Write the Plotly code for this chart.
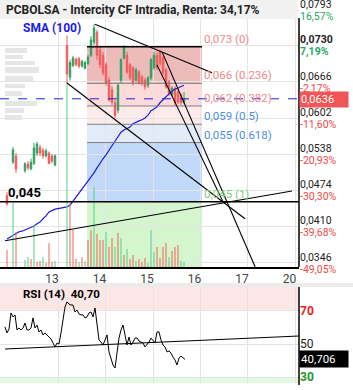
import numpy as np
import plotly.graph_objects as go

# ---------------- DATA ----------------
day_labels = ["13", "14", "15", "16", "17", "20"]
day_bars = [17.0, 32.83, 48.67, 64.5, 80.33, 96.17]

candle_open = [
    0.0465, None, 0.0524, 0.0535, None, None, 0.0509, 0.0521, 0.0512, 0.0522,
    0.0540, 0.0550, 0.0545, 0.0535, 0.0540, 0.0535, 0.0519, None, None, None,
    0.0730, 0.0674, 0.0695, 0.0706, 0.0707, 0.0694, 0.0690, 0.0698, 0.0713, 0.0736,
    0.0754, 0.0722, 0.0713, 0.0696, 0.0669, 0.0652, 0.0629, 0.0616, 0.0669, 0.0708,
    0.0713, 0.0696, 0.0691, 0.0669, 0.0683, 0.0675, 0.0669, 0.0660, 0.0673, 0.0691,
    0.0713, 0.0719, 0.0708, 0.0687, 0.0666, 0.0643, 0.0655, 0.0648, 0.0643, 0.0630]
candle_high = [
    0.0471, None, 0.0551, 0.0540, None, None, 0.0524, 0.0526, 0.0530, 0.0558,
    0.0560, 0.0555, 0.0549, 0.0548, 0.0543, 0.0538, 0.0538, None, None, None,
    0.0748, 0.0705, 0.0712, 0.0709, 0.0710, 0.0705, 0.0703, 0.0714, 0.0747, 0.0768,
    0.0758, 0.0728, 0.0719, 0.0701, 0.0675, 0.0659, 0.0634, 0.0664, 0.0708, 0.0731,
    0.0719, 0.0699, 0.0694, 0.0691, 0.0687, 0.0678, 0.0673, 0.0676, 0.0708, 0.0719,
    0.0719, 0.0722, 0.0712, 0.0691, 0.0669, 0.0659, 0.0659, 0.0652, 0.0646, 0.0648]
candle_low = [
    0.0447, None, 0.0521, 0.0505, None, None, 0.0505, 0.0510, 0.0510, 0.0519,
    0.0535, 0.0535, 0.0530, 0.0532, 0.0520, 0.0522, 0.0517, None, None, None,
    0.0664, 0.0668, 0.0692, 0.0693, 0.0690, 0.0691, 0.0688, 0.0696, 0.0710, 0.0731,
    0.0705, 0.0690, 0.0677, 0.0659, 0.0631, 0.0625, 0.0602, 0.0611, 0.0664, 0.0705,
    0.0680, 0.0669, 0.0659, 0.0666, 0.0661, 0.0659, 0.0652, 0.0655, 0.0669, 0.0687,
    0.0687, 0.0694, 0.0677, 0.0654, 0.0641, 0.0641, 0.0623, 0.0627, 0.0625, 0.0627]
candle_close = [
    0.0450, None, 0.0546, 0.0512, None, None, 0.0521, 0.0514, 0.0524, 0.0549,
    0.0556, 0.0540, 0.0535, 0.0544, 0.0522, 0.0526, 0.0535, None, None, None,
    0.0680, 0.0700, 0.0708, 0.0697, 0.0694, 0.0702, 0.0700, 0.0710, 0.0740, 0.0761,
    0.0713, 0.0696, 0.0682, 0.0664, 0.0634, 0.0630, 0.0607, 0.0660, 0.0705, 0.0728,
    0.0683, 0.0673, 0.0664, 0.0687, 0.0664, 0.0664, 0.0657, 0.0673, 0.0705, 0.0713,
    0.0691, 0.0699, 0.0682, 0.0657, 0.0646, 0.0655, 0.0629, 0.0630, 0.0629, 0.0636]

volume = [
    17, None, 64, 35, None, None, 7, 10, 8, 42,
    5, 6, 10, 4, 24, 5, 6, None, None, None,
    184, 64, 37, 8, 5, 10, 6, 27, 37, 80,
    33, 27, 27, 35, 20, 29, 20, 34, 29, 12,
    18, 8, 12, 6, 8, 5, 9, 4, 37, 15,
    20, 9, 20, 24, 10, 16, 20, 22, 6, 5]
volume_side = [
    "r", None, "g", "r", None, None, "g", "g", "r", "g",
    "r", "r", "g", "r", "r", "r", "g", None, None, None,
    "g", "r", "r", "r", "g", "r", "g", "r", "r", "g",
    "r", "r", "r", "g", "r", "r", "g", "r", "g", "r",
    "g", "r", "r", "g", "r", "r", "r", "g", "g", "g",
    "r", "r", "r", "r", "g", "r", "r", "r", "g", "g"]

sma100 = [
    0.0388, 0.0391, 0.0394, 0.0397, 0.0401, 0.0402, 0.0404, 0.0406, 0.0408, 0.0411,
    0.0415, 0.0418, 0.0424, 0.0429, 0.0436, 0.0439, 0.0441, 0.0442, 0.0443, 0.0444,
    0.0445, 0.0448, 0.0455, 0.0462, 0.0470, 0.0475, 0.0482, 0.0489, 0.0496, 0.0505,
    0.0514, 0.0523, 0.0530, 0.0537, 0.0544, 0.0553, 0.0561, 0.0570, 0.0577, 0.0581,
    0.0584, 0.0586, 0.0592, 0.0595, 0.0597, 0.0599, 0.0602, 0.0607, 0.0615, 0.0618,
    0.0622, 0.0629, 0.0634, 0.0639, 0.0645, 0.0650, 0.0653, 0.0655, 0.0657, 0.0660]

rsi14 = [
    60.3, 56.7, 59.1, 68.8, 66.4, 67.6, 58.5, 59.7, 58.5, 59.7,
    62.7, 58.5, 58.5, 59.7, 65.8, 59.7, 61.5, 57.3, 58.5, 55.5,
    56.7, 55.5, 54.2, 53.0, 50.6, 48.2, 50.6, 50.0, 56.7, 65.8,
    72.4, 75.5, 74.2, 73.6, 73.6, 69.4, 70.6, 68.2, 67.6, 67.6,
    65.8, 66.4, 68.8, 69.4, 66.4, 71.8, 63.3, 52.4, 51.2, 49.4,
    52.4, 55.5, 45.2, 41.5, 37.3, 35.5, 45.2, 53.6, 58.5, 61.5,
    55.5, 49.4, 54.2, 49.4, 51.2, 53.6, 53.6, 51.8, 51.2, 50.6,
    48.2, 49.4, 51.2, 53.6, 52.4, 50.6, 57.3, 57.3, 52.4, 49.4,
    48.2, 45.2, 45.8, 44.5, 42.1, 40.3, 37.3, 41.5, 42.7, 41.5,
    40.7]
rsi_last_label = "40,706"
rsi_title = "RSI (14)\u00a0\u00a040,70"

price_ticks = [0.0793, 0.0730, 0.0666, 0.0602, 0.0538, 0.0474, 0.0410, 0.0346]
price_tick_labels = ["0,0793", "0,0730", "0,0666", "0,0602", "0,0538", "0,0474", "0,0410", "0,0346"]
pct_tick_labels = ["16,57%", "7,19%", "-2,17%", "-11,60%", "-20,93%", "-30,30%", "-39,68%", "-49,05%"]
bold_tick = "0,0730"

fib_high = 0.0728
fib_low = 0.0454
fib_ratios = [0, 0.236, 0.382, 0.5, 0.618, 1]
fib_labels = ["0,073 (0)", "0,066 (0.236)", "0,062 (0.382)", "0,059 (0.5)", "0,055 (0.618)", "0,045 (1)"]
fib_start_bar, fib_end_bar = 26.67, 65.0

level_line_value = 0.0454
level_line_label = "0,045"
last_price_label = "0,0636"

# trend lines (bar, price) pairs drawn on the chart
trend_lines = [
    ((29.33, 0.0768), (68.33, 0.0682)),
    ((20.0, 0.0664), (79.33, 0.0424)),
    ((51.67, 0.0719), (82.7, 0.0339)),
    ((50.0, 0.0696), (72.0, 0.0454)),
    ((-0.67, 0.0385), (95.0, 0.0473)),
]
rsi_trend = ((-0.67, 47.0), (97.33, 54.8))

title_text = "PCBOLSA - Intercity CF Intradia, Renta: 34,17%"

# ---------------- STYLE ----------------
W, H = 353, 390
PLOT_R = 299
GREEN_C = "#2f9e62"
RED_C = "#f25a5a"
VOL_G = "rgba(90,212,140,0.85)"
VOL_R = "rgba(236,90,80,0.75)"
GRID = "#e4e4e4"
PCT_G = "#27a86a"
PCT_R = "#f04848"
FONT = "Roboto"

def pxx(px):
    return px / PLOT_R

def pxy(py):
    return 1 - py / H

main_top_val = 0.0793 + 10 / 5657
main_bot_val = 0.0793 - 257 / 5657

fig = go.Figure()

vidx = [i for i, v in enumerate(volume) if v is not None]
fig.add_trace(go.Bar(
    x=vidx, y=[volume[i] for i in vidx],
    marker=dict(color=[VOL_G if volume_side[i] == "g" else VOL_R for i in vidx], line=dict(width=0)),
    width=0.42, xaxis="x", yaxis="y3", hoverinfo="skip"))

cidx = [i for i, o in enumerate(candle_open) if o is not None]
fig.add_trace(go.Candlestick(
    x=cidx,
    open=[candle_open[i] for i in cidx], high=[candle_high[i] for i in cidx],
    low=[candle_low[i] for i in cidx], close=[candle_close[i] for i in cidx],
    increasing=dict(line=dict(color=GREEN_C, width=1), fillcolor=GREEN_C),
    decreasing=dict(line=dict(color=RED_C, width=1), fillcolor=RED_C),
    whiskerwidth=0, xaxis="x", yaxis="y", hoverinfo="skip"))

fig.add_trace(go.Scatter(x=list(range(len(sma100))), y=sma100, mode="lines",
                         line=dict(color="#1c1ce6", width=1.2), xaxis="x", yaxis="y", hoverinfo="skip"))

fig.add_trace(go.Scatter(x=[0], y=[candle_close[-1]], mode="markers", marker=dict(opacity=0),
                         xaxis="x", yaxis="y4", hoverinfo="skip"))

rsi_x = (np.arange(len(rsi14)) * 2 - 2) / 3
fig.add_trace(go.Scatter(x=rsi_x, y=rsi14, mode="lines", line=dict(color="black", width=1),
                         xaxis="x2", yaxis="y2", hoverinfo="skip"))

shapes = []
fib_vals = [fib_high - r * (fib_high - fib_low) for r in fib_ratios]
zone_colors = ["rgba(222,120,120,0.5)", "#fcdada", "#fdeaea", "#e2ebf8", "#c3d9f9"]
for k in range(5):
    shapes.append(dict(type="rect", xref="x", yref="y", x0=fib_start_bar, x1=fib_end_bar,
                       y0=fib_vals[k + 1], y1=fib_vals[k], fillcolor=zone_colors[k],
                       line=dict(width=0), layer="below"))
shapes.append(dict(type="rect", xref="x", yref="y", x0=fib_start_bar, x1=fib_end_bar,
                   y0=main_bot_val, y1=fib_vals[5], fillcolor="#d5f5cf", line=dict(width=0), layer="below"))
for k in range(1, 5):
    shapes.append(dict(type="line", xref="x", yref="y", x0=fib_start_bar, x1=fib_end_bar,
                       y0=fib_vals[k], y1=fib_vals[k], line=dict(color="#808080", width=1), layer="above"))
shapes.append(dict(type="line", xref="x", yref="y", x0=fib_start_bar, x1=fib_end_bar,
                   y0=fib_vals[0], y1=fib_vals[0], line=dict(color="black", width=1.5), layer="above"))
shapes.append(dict(type="line", xref="paper", yref="y", x0=0, x1=1, y0=level_line_value, y1=level_line_value,
                   line=dict(color="black", width=1.5), layer="above"))
shapes.append(dict(type="line", xref="paper", yref="y", x0=0, x1=1,
                   y0=candle_close[-1], y1=candle_close[-1],
                   line=dict(color="#2020d8", width=1, dash="dash"), layer="above"))
for (a, b) in trend_lines:
    shapes.append(dict(type="line", xref="x", yref="y", x0=a[0], y0=a[1], x1=b[0], y1=b[1],
                       line=dict(color="black", width=1.1), layer="above"))
shapes.append(dict(type="rect", xref="paper", yref="y2", x0=0, x1=1, y0=70, y1=84.5,
                   fillcolor="#fde6e6", line=dict(width=0), layer="below"))
shapes.append(dict(type="rect", xref="paper", yref="y2", x0=0, x1=1, y0=26.4, y1=30,
                   fillcolor="#e2f9e2", line=dict(width=0), layer="below"))
shapes.append(dict(type="line", xref="x2", yref="y2", x0=rsi_trend[0][0], y0=rsi_trend[0][1],
                   x1=rsi_trend[1][0], y1=rsi_trend[1][1], line=dict(color="black", width=1.1), layer="above"))
shapes.append(dict(type="rect", xref="paper", yref="paper", x0=0, x1=pxx(298), y0=pxy(19), y1=1,
                   fillcolor="#f1f1f1", line=dict(width=0), layer="above"))
shapes.append(dict(type="rect", xref="paper", yref="paper", x0=0, x1=W / PLOT_R, y0=pxy(287), y1=pxy(283),
                   fillcolor="#ebebeb", line=dict(width=0), layer="above"))
shapes.append(dict(type="line", xref="paper", yref="paper", x0=1, x1=1, y0=pxy(267), y1=pxy(18),
                   line=dict(color="black", width=1.5), layer="above"))
shapes.append(dict(type="line", xref="paper", yref="paper", x0=1, x1=1, y0=pxy(385), y1=pxy(287),
                   line=dict(color="black", width=1.5), layer="above"))
blur_rows = [(48, 53, 22), (55, 59, 18), (61, 65, 30), (67, 73, 34), (76, 81, 28),
             (84, 88, 20), (91, 96, 17), (101, 106, 32), (108, 113, 19), (115, 120, 17)]
for (ya, yb, wd) in blur_rows:
    shapes.append(dict(type="rect", xref="paper", yref="paper", x0=pxx(5), x1=pxx(5 + wd),
                       y0=pxy(yb), y1=pxy(ya), fillcolor="rgba(200,200,200,0.45)",
                       line=dict(width=0), layer="below"))

annotations = []
annotations.append(dict(xref="paper", yref="paper", x=pxx(4), y=pxy(10), xanchor="left", yanchor="middle",
                        text="<b>" + title_text + "</b>", showarrow=False,
                        font=dict(family=FONT, size=12, color="#222")))
annotations.append(dict(xref="paper", yref="paper", x=pxx(21), y=pxy(28), xanchor="left", yanchor="middle",
                        text="<b>SMA (100)</b>", showarrow=False, font=dict(family=FONT, size=12, color="#1c1ce6")))
annotations.append(dict(xref="paper", yref="y", x=pxx(6), y=level_line_value, xanchor="left", yanchor="bottom",
                        text="<b>" + level_line_label + "</b>", showarrow=False,
                        font=dict(family=FONT, size=13, color="black")))
fib_colors = ["#ee8a8a", "#ee8a8a", "#ee8a8a", "#4a8de6", "#4a8de6", "#7fd07f"]
for k in range(6):
    annotations.append(dict(xref="x", yref="y", x=fib_end_bar, y=fib_vals[k], xanchor="left", yanchor="bottom",
                            text=fib_labels[k], showarrow=False, yshift=-1,
                            font=dict(family=FONT, size=11.5, color=fib_colors[k])))
annotations.append(dict(xref="paper", yref="y", x=1, y=candle_close[-1], xanchor="left", yanchor="middle",
                        text=last_price_label, showarrow=False, bgcolor="#f25555", width=46, align="left",
                        borderpad=1, yshift=-1, font=dict(family=FONT, size=11, color="white")))
annotations.append(dict(xref="paper", yref="paper", x=pxx(21), y=pxy(294), xanchor="left", yanchor="middle",
                        text="<b>" + rsi_title + "</b>", showarrow=False,
                        font=dict(family=FONT, size=11.5, color="black")))
annotations.append(dict(xref="paper", yref="y2", x=1, y=rsi14[-1], xanchor="left", yanchor="middle",
                        text=rsi_last_label, showarrow=False, bgcolor="black", width=46, align="left",
                        borderpad=1, font=dict(family=FONT, size=11.5, color="white")))

price_text = [("<b>%s</b>" % t if t == bold_tick else t) for t in price_tick_labels]
pct_text = []
for t, p in zip(pct_tick_labels, price_tick_labels):
    col = PCT_R if t.startswith("-") else PCT_G
    s = "<span style='color:%s'>%s</span>" % (col, t)
    if p == bold_tick:
        s = "<b>" + s + "</b>"
    pct_text.append(s)

fig.update_layout(
    width=W, height=H, margin=dict(l=0, r=W - PLOT_R, t=0, b=0, autoexpand=False),
    paper_bgcolor="white", plot_bgcolor="white", showlegend=False,
    font=dict(family=FONT, size=11, color="#222"),
    shapes=shapes, annotations=annotations,
    xaxis=dict(domain=[0, 1], anchor="y", range=[-2.333, 97.333], tickvals=day_bars, ticktext=day_labels,
               ticklabelshift=-6, showgrid=True, gridcolor=GRID, gridwidth=1, showline=True,
               linecolor="black", linewidth=1.5, ticks="", zeroline=False, automargin=False,
               tickfont=dict(family=FONT, size=12, color="#444"), rangeslider=dict(visible=False)),
    xaxis2=dict(domain=[0, 1], anchor="y2", matches="x", showticklabels=False, tickvals=day_bars,
                showgrid=True, gridcolor=GRID, showline=False, ticks="", zeroline=False, automargin=False,
                rangeslider=dict(visible=False)),
    yaxis=dict(domain=[pxy(267), 1], anchor="x", range=[main_bot_val, main_top_val], side="right",
               tickvals=price_ticks, ticktext=price_text, ticklabelshift=-6, showgrid=True, gridcolor=GRID,
               showline=False, ticks="", zeroline=False, automargin=False, ticklabeloverflow="allow",
               tickfont=dict(family=FONT, size=10.5, color="#222")),
    yaxis4=dict(overlaying="y", anchor="x", range=[main_bot_val, main_top_val], side="right",
                tickvals=price_ticks, ticktext=pct_text, ticklabelshift=6, showgrid=False,
                showline=False, ticks="", zeroline=False, automargin=False, ticklabeloverflow="allow",
                tickfont=dict(family=FONT, size=10.5)),
    yaxis3=dict(overlaying="y", anchor="x", range=[0, 267], visible=False, automargin=False),
    yaxis2=dict(domain=[pxy(383), pxy(287)], anchor="x2", range=[26.4, 84.5], side="right",
                tickvals=[70, 50, 30],
                ticktext=["<b><span style='color:#ee1c1c'>70</span></b>", "50",
                          "<b><span style='color:#1c9a1c'>30</span></b>"],
                showgrid=True, gridcolor=GRID, showline=False, ticks="", zeroline=False, automargin=False,
                tickfont=dict(family=FONT, size=12, color="#222")),
)

fig.write_html("out.html")
